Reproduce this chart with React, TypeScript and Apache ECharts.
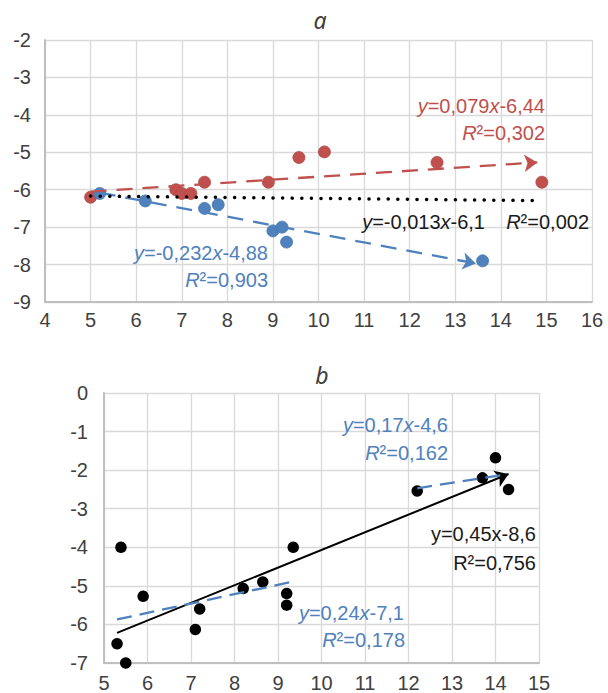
import React, { useEffect, useRef } from "react";
import * as echarts from "echarts";

// ---- Chart a ----
const aRedX = [5.0, 6.87, 7.0, 7.2, 7.5, 8.9, 9.57, 10.13, 12.6, 14.9];
const aRedY = [-6.2, -6.0, -6.1, -6.1, -5.8, -5.8, -5.14, -4.99, -5.27, -5.8];
const aBlueX = [5.2, 6.2, 7.5, 7.8, 9.0, 9.2, 9.3, 13.6];
const aBlueY = [-6.1, -6.3, -6.5, -6.4, -7.1, -7.0, -7.4, -7.9];
// trendline endpoints
const aRedTrendX = [5.0, 14.8];
const aRedTrendY = [-6.05, -5.27];
const aBlueTrendX = [5.2, 13.45];
const aBlueTrendY = [-6.08, -7.97];
const aAllTrendX = [5.0, 14.7];
const aAllTrendY = [-6.17, -6.29];

// ---- Chart b ----
const bX = [5.3, 5.39, 5.5, 5.9, 7.1, 7.2, 8.2, 8.65, 9.2, 9.2, 9.35, 12.2, 13.7, 14.0, 14.3];
const bY = [-6.5, -4.0, -7.0, -5.27, -6.13, -5.6, -5.07, -4.9, -5.2, -5.5, -4.0, -2.54, -2.2, -1.68, -2.5];
const bAllTrendX = [5.3, 14.3];
const bAllTrendY = [-6.22, -2.1];
const bLowTrendX = [5.3, 9.3];
const bLowTrendY = [-5.87, -4.9];
const bHighTrendX = [12.2, 14.3];
const bHighTrendY = [-2.47, -2.1];

// axis ranges
const aXRange = [4, 16];
const aYRange = [-9, -2];
const bXRange = [5, 15];
const bYRange = [-7, 0];

const RED = "#c0504d";
const BLUE = "#4f81bd";
const BLACK = "#000000";
const TXT = "#404040";
const FONT = "Liberation Sans";

const pairs = (xs: number[], ys: number[]) => xs.map((x, i) => [x, ys[i]]);

function axisX(gridIndex: number, range: number[], margin: number) {
  return {
    type: "value",
    gridIndex,
    min: range[0],
    max: range[1],
    interval: 1,
    axisLine: { show: true, onZero: false, lineStyle: { color: "#bfbfbf", width: 2 } },
    axisTick: { show: false },
    splitLine: { show: true, lineStyle: { color: "#d9d9d9", width: 1.3 } },
    axisLabel: { color: TXT, fontSize: 20, fontFamily: FONT, margin },
  };
}
function axisY(gridIndex: number, range: number[], margin: number) {
  return {
    type: "value",
    gridIndex,
    min: range[0],
    max: range[1],
    interval: 1,
    axisLine: { show: true, onZero: false, lineStyle: { color: "#bfbfbf", width: 2 } },
    axisTick: { show: false },
    splitLine: { show: true, lineStyle: { color: "#d9d9d9", width: 1.3 } },
    axisLabel: { color: TXT, fontSize: 20, fontFamily: FONT, margin },
  };
}

function trend(idx: number, xs: number[], ys: number[], color: string, type: any, arrow: boolean, width = 2, cap = "butt") {
  return {
    type: "lines",
    coordinateSystem: "cartesian2d",
    xAxisIndex: idx,
    yAxisIndex: idx,
    silent: true,
    z: 4,
    symbol: arrow ? ["none", "arrow"] : ["none", "none"],
    symbolSize: arrow ? [1, 13] : 1,
    lineStyle: { color, width, type, opacity: 1, cap },
    data: [{ coords: pairs(xs, ys) }],
  };
}

function label(x: number, y: number, text: string, color: string, align = "right") {
  const base = { fontSize: 20, fontFamily: FONT, fill: color };
  return {
    type: "text",
    x,
    y,
    silent: true,
    z: 100,
    style: {
      text,
      ...base,
      align,
      verticalAlign: "middle",
      rich: {
        i: { ...base, fontStyle: "italic" },
        n: { ...base },
      },
    },
  };
}

export default function App() {
  const ref = useRef<HTMLDivElement>(null);
  useEffect(() => {
    if (!ref.current) return;
    const chart = echarts.init(ref.current, undefined, { renderer: "svg" });
    const option: any = {
      animation: false,
      backgroundColor: "#ffffff",
      grid: [
        { left: 45, top: 40, width: 547, height: 262 },
        { left: 104, top: 393, width: 435, height: 270 },
      ],
      xAxis: [axisX(0, aXRange, 8), axisX(1, bXRange, 10)],
      yAxis: [axisY(0, aYRange, 14), axisY(1, bYRange, 16)],
      series: [
        {
          type: "scatter",
          xAxisIndex: 0,
          yAxisIndex: 0,
          symbolSize: 12,
          itemStyle: { color: RED, opacity: 1, borderColor: "#b04744", borderWidth: 0.8 },
          data: pairs(aRedX, aRedY),
          z: 3,
        },
        {
          type: "scatter",
          xAxisIndex: 0,
          yAxisIndex: 0,
          symbolSize: 12,
          itemStyle: { color: BLUE, opacity: 1, borderColor: "#4475ad", borderWidth: 0.8 },
          data: pairs(aBlueX, aBlueY),
          z: 3,
        },
        trend(0, aRedTrendX, aRedTrendY, RED, [16, 10], true, 2.3),
        trend(0, aBlueTrendX, aBlueTrendY, BLUE, [16, 10], true, 2.3),
        trend(0, aAllTrendX, aAllTrendY, BLACK, [0.1, 9.5], false, 3.5, "round"),
        {
          type: "scatter",
          xAxisIndex: 1,
          yAxisIndex: 1,
          symbolSize: 11.5,
          itemStyle: { color: BLACK, opacity: 1 },
          data: pairs(bX, bY),
          z: 3,
        },
        trend(1, bAllTrendX, bAllTrendY, BLACK, "solid", true),
        trend(1, bLowTrendX, bLowTrendY, BLUE, [15, 8], false, 2.3),
        trend(1, bHighTrendX, bHighTrendY, BLUE, [15, 8], false, 2.3),
      ],
      graphic: [
        {
          type: "text",
          x: 320,
          y: 20,
          style: { text: "a", fontSize: 23, fontFamily: "Noto Sans", fontStyle: "italic", fill: TXT, align: "center", verticalAlign: "middle" },
        },
        {
          type: "text",
          x: 322,
          y: 375,
          style: { text: "b", fontSize: 23, fontFamily: "Noto Sans", fontStyle: "italic", fill: TXT, align: "center", verticalAlign: "middle" },
        },
        label(545, 106, "{i|y}{n|=0,079}{i|x}{n|-6,44}", RED),
        label(545, 133, "{i|R}{n|²=0,302}", RED),
        label(485, 222, "{i|y}{n|=-0,013}{i|x}{n|-6,1}", "#1a1a1a"),
        label(589, 222, "{i|R}{n|²=0,002}", "#1a1a1a"),
        label(268, 253, "{i|y}{n|=-0,232}{i|x}{n|-4,88}", BLUE),
        label(268, 280, "{i|R}{n|²=0,903}", BLUE),
        label(448, 425, "{i|y}{n|=0,17}{i|x}{n|-4,6}", BLUE),
        label(448, 453, "{i|R}{n|²=0,162}", BLUE),
        label(536, 534, "{n|y=0,45x-8,6}", "#1a1a1a"),
        label(536, 563, "{n|R²=0,756}", "#1a1a1a"),
        label(404, 613, "{i|y}{n|=0,24}{i|x}{n|-7,1}", BLUE),
        label(405, 640, "{i|R}{n|²=0,178}", BLUE),
      ],
    };
    chart.setOption(option);
    return () => chart.dispose();
  }, []);
  return <div ref={ref} style={{ position: "absolute", left: 0, top: 0, width: 608, height: 693 }} />;
}
